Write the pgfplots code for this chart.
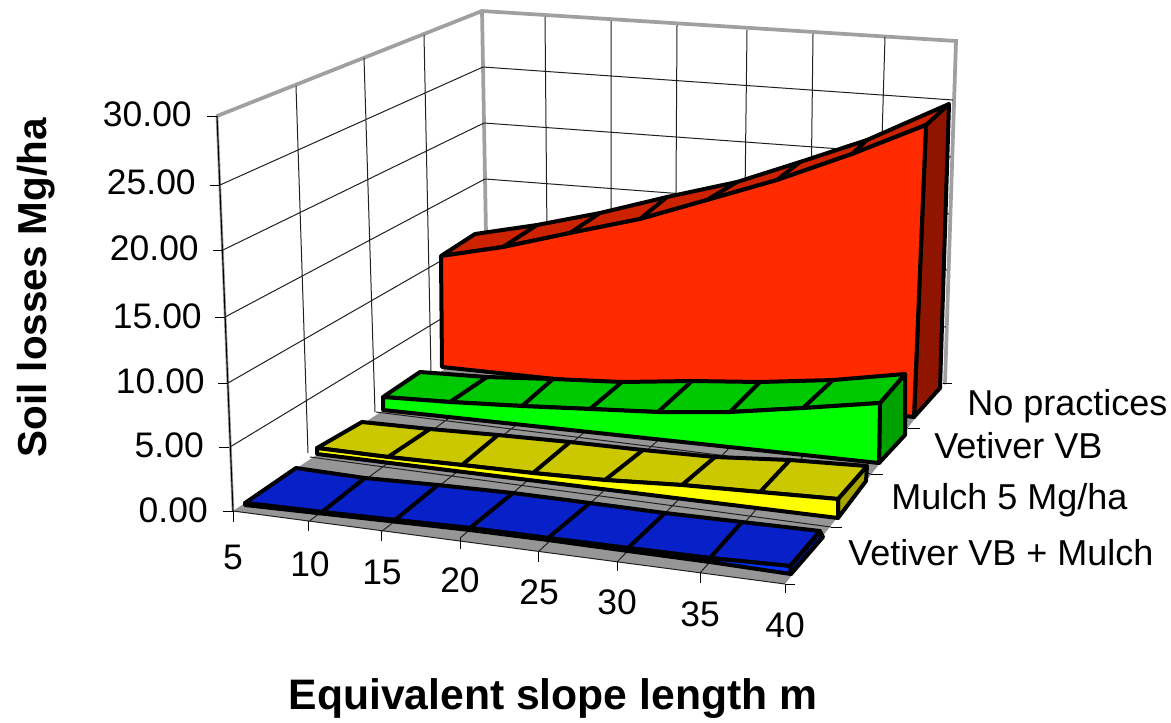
\documentclass[border=0pt]{standalone}
\usepackage{pgfplots}
\pgfplotsset{compat=1.18}
\usepackage{fontspec}
\setmainfont{Liberation Sans}
\definecolor{rF}{HTML}{FF2A00}\definecolor{rT}{HTML}{CC2200}\definecolor{rS}{HTML}{8F1500}
\definecolor{gF}{HTML}{00FF00}\definecolor{gT}{HTML}{00C800}\definecolor{gS}{HTML}{00A000}
\definecolor{yF}{HTML}{FFFF00}\definecolor{yT}{HTML}{CCC800}\definecolor{yS}{HTML}{A8A400}
\definecolor{bF}{HTML}{0033FF}\definecolor{bT}{HTML}{0820C8}\definecolor{bS}{HTML}{000C60}
\definecolor{floorc}{HTML}{969696}\definecolor{framec}{HTML}{A0A0A0}\definecolor{gridc}{HTML}{202020}
\pgfplotsset{
  sh/.style={draw=black,line width=3pt,line join=round,line cap=round},
  gl/.style={draw=gridc,line width=0.75pt,unbounded coords=jump},
  fr/.style={draw=framec,line width=2.8pt,line join=miter,line cap=round},
  dv/.style={draw=black,line width=3pt,line cap=round,unbounded coords=jump},
}
\newcommand{\lab}{\fontsize{26.6}{30}\selectfont}
\begin{document}
\begin{tikzpicture}
\begin{axis}[
  scale only axis,width=878.25pt,height=541.5pt,
  xmin=0,xmax=1171,ymin=0,ymax=722,y dir=reverse,hide axis,clip=false]
% page extent
\addplot[draw=none] coordinates {(0,0) (1171,722)};
% floor
\addplot[fill=floorc,draw=none] coordinates {(233,511) (785,584) (943,383) (488,340)} --cycle;
% walls: frame
\addplot[fr] coordinates {(217,116) (482,11) (956,41) (945,383)};
\addplot[fr] coordinates {(482,11) (488,345)};
\addplot[draw=framec,line width=2pt] coordinates {(217,116) (233,511)};
\addplot[draw=black,line width=0.8pt] coordinates {(217,116) (233,511)};
% wall gridlines
\addplot[gl] coordinates {
(220,185) (483,67) (953,100) (nan,nan)
(223,250) (484,123) (951,157) (nan,nan)
(225,317) (485,179) (949,214) (nan,nan)
(228,383) (486,235) (947,270) (nan,nan)
(230,447) (487,291) (946,327) (nan,nan)
(296,86) (308,453) (nan,nan)
(364,58) (375,412) (nan,nan)
(424,35) (431,372) (nan,nan)
(545,17) (548,345) (nan,nan)
(611,21) (611,350) (nan,nan)
(677,25) (675,355) (nan,nan)
(747,30) (743,361) (nan,nan)
(813,34) (809,367) (nan,nan)
(885,37) (875,375)};
% floor gridlines
\addplot[gl] coordinates {
(233,511) (785,584) (nan,nan)
(310,457) (831,527) (nan,nan)
(376,412) (871,474) (nan,nan)
(431,372) (908,428) (nan,nan)
(308,522) (548,345) (nan,nan)
(381,532) (611,350) (nan,nan)
(460,538) (675,355) (nan,nan)
(538,552) (743,361) (nan,nan)
(617,562) (809,367) (nan,nan)
(700,573) (875,375)};
% axis ticks
\addplot[draw=black,line width=0.75pt,unbounded coords=jump] coordinates {
(207,116) (217,116) (nan,nan) (210,185) (220,185) (nan,nan)
(213,250) (223,250) (nan,nan) (215,317) (225,317) (nan,nan)
(218,383) (228,383) (nan,nan) (219,447) (229,447) (nan,nan)
(223,511) (233,511) (nan,nan)
(233,511) (233,522) (nan,nan) (308,522) (308,531) (nan,nan)
(381,532) (381,541) (nan,nan) (460,538) (460,549) (nan,nan)
(538,552) (538,562) (nan,nan) (617,562) (617,571) (nan,nan)
(700,573) (700,583) (nan,nan) (785,584) (785,593) (nan,nan)
(785,584) (795,584) (nan,nan) (831,527) (842,527) (nan,nan)
(871,474) (883,474) (nan,nan) (908,428) (920,428) (nan,nan)
(943,383) (952,383)};
% No practices
\addplot[sh,fill=rS] coordinates {(926,125) (949,104) (940,388) (914,417)} --cycle;
\addplot[sh,fill=rT] coordinates {(441,256) (475,234) (537,225) (600,213) (667,197) (737,182) (800,162) (867,140) (949,104) (926,125) (852,154) (777,180) (707,200) (640,219) (570,233) (503,247)} --cycle;
\addplot[sh,fill=rF] coordinates {(441,256) (503,247) (570,233) (640,219) (707,200) (777,180) (852,154) (926,125) (914,417) (442,367)} --cycle;
\addplot[dv] coordinates {(503,247) (537,225) (nan,nan) (570,233) (600,213) (nan,nan) (640,219) (667,197) (nan,nan) (707,200) (737,182) (nan,nan) (777,180) (800,162) (nan,nan) (852,154) (867,140)};
% Vetiver VB
\addplot[sh,fill=gS] coordinates {(880,403) (905,374) (905,435) (879,463)} --cycle;
\addplot[sh,fill=gT] coordinates {(383,397) (420,372) (487,377) (553,379) (622,382) (692,381) (760,382) (833,380) (905,374) (880,403) (803,408) (730,412) (658,412) (590,409) (522,406) (450,402)} --cycle;
\addplot[sh,fill=gF] coordinates {(383,397) (450,402) (522,406) (590,409) (658,412) (730,412) (803,408) (880,403) (879,463) (383,410)} --cycle;
\addplot[dv] coordinates {(450,402) (487,377) (nan,nan) (522,406) (553,379) (nan,nan) (590,409) (622,382) (nan,nan) (658,412) (692,381) (nan,nan) (730,412) (760,382) (nan,nan) (803,408) (833,380)};
% Mulch 5 Mg/ha
\addplot[sh,fill=yS] coordinates {(838,499) (867,466) (866,481) (838,518)} --cycle;
\addplot[sh,fill=yT] coordinates {(317,448) (362,422) (430,429) (498,435) (570,442) (643,450) (715,457) (790,460) (867,466) (838,499) (760,492) (682,485) (605,480) (533,473) (462,465) (388,457)} --cycle;
\addplot[sh,fill=yF] coordinates {(317,448) (388,457) (462,465) (533,473) (605,480) (682,485) (760,492) (838,499) (838,518) (317,454)} --cycle;
\addplot[dv] coordinates {(388,457) (430,429) (nan,nan) (462,465) (498,435) (nan,nan) (533,473) (570,442) (nan,nan) (605,480) (643,450) (nan,nan) (682,485) (715,457) (nan,nan) (760,492) (790,460)};
% Vetiver VB + Mulch
\addplot[sh,fill=bS] coordinates {(790,566) (820,531) (823,537) (791,574)} --cycle;
\addplot[sh,fill=bT] coordinates {(245,503) (296,468) (365,478) (438,485) (513,493) (590,503) (665,513) (742,522) (820,531) (790,566) (710,558) (628,548) (548,538) (470,528) (395,520) (322,512)} --cycle;
\addplot[sh,fill=bF] coordinates {(245,503) (322,512) (395,520) (470,528) (548,538) (628,548) (710,558) (790,566) (791,574) (710,562) (628,551) (548,540) (470,530) (245,505)} --cycle;
\addplot[dv] coordinates {(322,512) (365,478) (nan,nan) (395,520) (438,485) (nan,nan) (470,528) (513,493) (nan,nan) (548,538) (590,503) (nan,nan) (628,548) (665,513) (nan,nan) (710,558) (742,522)};
% value labels
\node[anchor=base east,inner sep=0pt,font=\lab] at (axis cs:192,126) {30.00};
\node[anchor=base east,inner sep=0pt,font=\lab] at (axis cs:196,194) {25.00};
\node[anchor=base east,inner sep=0pt,font=\lab] at (axis cs:199,260) {20.00};
\node[anchor=base east,inner sep=0pt,font=\lab] at (axis cs:202,328) {15.00};
\node[anchor=base east,inner sep=0pt,font=\lab] at (axis cs:205,393) {10.00};
\node[anchor=base east,inner sep=0pt,font=\lab] at (axis cs:204,457) {5.00};
\node[anchor=base east,inner sep=0pt,font=\lab] at (axis cs:208,522) {0.00};
\node[inner sep=0pt,font=\lab] at (axis cs:233,557) {5};
\node[inner sep=0pt,font=\lab] at (axis cs:310,564) {10};
\node[inner sep=0pt,font=\lab] at (axis cs:382,572) {15};
\node[inner sep=0pt,font=\lab] at (axis cs:460,580) {20};
\node[inner sep=0pt,font=\lab] at (axis cs:539,592) {25};
\node[inner sep=0pt,font=\lab] at (axis cs:617,602) {30};
\node[inner sep=0pt,font=\lab] at (axis cs:700,614) {35};
\node[inner sep=0pt,font=\lab] at (axis cs:785,625) {40};
\node[anchor=base west,inner sep=0pt,font=\fontsize{27}{30}\selectfont] at (axis cs:967,415) {No practices};
\node[anchor=base west,inner sep=0pt,font=\fontsize{27}{30}\selectfont] at (axis cs:934,458) {Vetiver VB};
\node[anchor=base west,inner sep=0pt,font=\fontsize{27}{30}\selectfont] at (axis cs:891,509) {Mulch 5 Mg/ha};
\node[anchor=base west,inner sep=0pt,font=\fontsize{27}{30}\selectfont] at (axis cs:848,565) {Vetiver VB + Mulch};
\node[inner sep=0pt,font=\fontsize{32}{36}\selectfont\bfseries] at (axis cs:553,699) {Equivalent slope length m};
\node[inner sep=0pt,font=\fontsize{30.3}{34}\selectfont\bfseries,rotate=90] at (axis cs:36,288) {Soil losses Mg/ha};
\end{axis}
\end{tikzpicture}
\end{document}
